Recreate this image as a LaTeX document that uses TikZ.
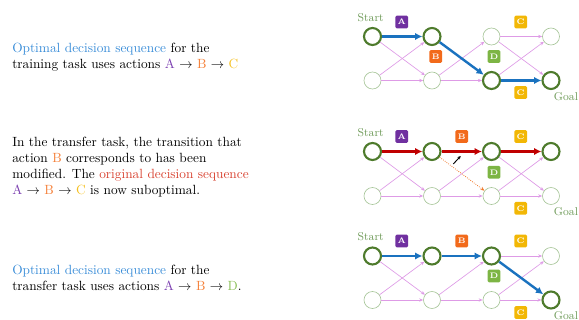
\documentclass[tikz,border=0pt]{standalone}
\usetikzlibrary{arrows.meta}
\definecolor{optblue}{HTML}{3A8DD8}
\definecolor{origred}{HTML}{D8412F}
\definecolor{colA}{HTML}{7030A0}
\definecolor{colB}{HTML}{F26A1B}
\definecolor{colC}{HTML}{F2B705}
\definecolor{colD}{HTML}{7DB544}
\definecolor{txtA}{HTML}{7B3FB0}
\definecolor{txtB}{HTML}{F5813A}
\definecolor{txtC}{HTML}{F5C020}
\definecolor{txtD}{HTML}{8CC05A}
\definecolor{dgreen}{HTML}{4E7B2C}
\definecolor{lgreen}{HTML}{A8C69A}
\definecolor{lblgreen}{HTML}{6E9A58}
\definecolor{pinkedge}{HTML}{DE9BE6}
\definecolor{pathblue}{HTML}{1A72BF}
\definecolor{pathred}{HTML}{C00000}
\definecolor{oldorange}{HTML}{F07A2C}
\begin{document}
\begin{tikzpicture}[x=0.75pt,y=-0.75pt,
 stateon/.style={circle,draw=dgreen,line width=1.6pt,minimum size=12.75pt,inner sep=0pt},
 stateoff/.style={circle,draw=lgreen,line width=0.5pt,minimum size=12.75pt,inner sep=0pt},
 tr/.style={draw=pinkedge,line width=0.5pt,-{Stealth[length=3pt,width=2.5pt]}},
 bluepath/.style={draw=pathblue,line width=1.8pt,-{Latex[length=5.5pt,width=5.5pt]}},
 redpath/.style={draw=pathred,line width=1.8pt,-{Latex[length=5.5pt,width=5.5pt]}},
 oldpath/.style={draw=oldorange,line width=0.6pt,densely dotted,-{Stealth[length=3pt,width=2.5pt]}},
 modarrow/.style={draw=black,line width=0.7pt,-{Stealth[length=2.5pt,width=2.5pt]}},
 act/.style={rectangle,rounded corners=1pt,minimum size=9.5pt,inner sep=0pt,text=white,font=\bfseries\fontsize{6}{6}\selectfont},
 lbl/.style={text=lblgreen,font=\fontsize{8.5}{10}\selectfont,inner sep=0pt},
 desc/.style={anchor=west,align=left,font=\fontsize{10}{12}\selectfont,inner sep=0pt}]
\useasboundingbox (0,0) rectangle (579,320);

% ---------- left texts ----------
\node[desc] (t1) at (12,57) {\textcolor{optblue}{Optimal decision sequence} for the\\
training task uses actions \textcolor{txtA}{A} $\rightarrow$ \textcolor{txtB}{B} $\rightarrow$ \textcolor{txtC}{C}};
\node[desc] (t2) at (12,167) {In the transfer task, the transition that\\
action \textcolor{txtB}{B} corresponds to has been\\
modified. The \textcolor{origred}{original decision sequence}\\
\textcolor{txtA}{A} $\rightarrow$ \textcolor{txtB}{B} $\rightarrow$ \textcolor{txtC}{C} is now suboptimal.};
\node[desc] (t3) at (12,278) {\textcolor{optblue}{Optimal decision sequence} for the\\
transfer task uses actions \textcolor{txtA}{A} $\rightarrow$ \textcolor{txtB}{B} $\rightarrow$ \textcolor{txtD}{D}.};

% ---------- panel 1 ----------
\node[stateon]  (a1) at (372.5,36.5) {};
\node[stateon]  (a2) at (432,36.5) {};
\node[stateoff] (a3) at (491.5,36.5) {};
\node[stateoff] (a4) at (551,36.5) {};
\node[stateoff] (b1) at (372.5,80.5) {};
\node[stateoff] (b2) at (432,80.5) {};
\node[stateon]  (b3) at (491.5,80.5) {};
\node[stateon]  (b4) at (551,80.5) {};
\draw[tr] (a1) -- (b2);
\draw[tr] (b1) -- (a2);
\draw[tr] (b1) -- (b2);
\draw[tr] (b2) -- (a3);
\draw[tr] (b2) -- (b3);
\draw[tr] (a3) -- (a4);
\draw[tr] (a3) -- (b4);
\draw[tr] (b3) -- (a4);
\draw[bluepath] (a1) -- (a2);
\draw[bluepath] (a2) -- (b3);
\draw[bluepath] (b3) -- (b4);
\node[lbl] (s1) at (370.7,17.5) {Start};
\node[lbl] (g1) at (566,96.5) {Goal};
\node[act,fill=colA] (xa1) at (401.7,22) {A};
\node[act,fill=colB] (xb1) at (435.7,56.5) {B};
\node[act,fill=colD] (xd1) at (494,56.5) {D};
\node[act,fill=colC] (xc1) at (520.7,22) {C};
\node[act,fill=colC] (xe1) at (520.7,92.5) {C};

% ---------- panel 2 ----------
\node[stateon]  (c1) at (372.5,151.5) {};
\node[stateon]  (c2) at (432,151.5) {};
\node[stateon]  (c3) at (491.5,151.5) {};
\node[stateon]  (c4) at (551,151.5) {};
\node[stateoff] (d1) at (372.5,196) {};
\node[stateoff] (d2) at (432,196) {};
\node[stateoff] (d3) at (491.5,196) {};
\node[stateoff] (d4) at (551,196) {};
\draw[tr] (c1) -- (d2);
\draw[tr] (d1) -- (c2);
\draw[tr] (d1) -- (d2);
\draw[tr] (d2) -- (c3);
\draw[tr] (d2) -- (d3);
\draw[tr] (c3) -- (d4);
\draw[tr] (d3) -- (c4);
\draw[tr] (d3) -- (d4);
\draw[oldpath] (c2) -- (d3);
\draw[redpath] (c1) -- (c2);
\draw[redpath] (c2) -- (c3);
\draw[redpath] (c3) -- (c4);
\coordinate (m0) at (453.3,164);
\coordinate (m1) at (460.7,156);
\draw[modarrow] (m0) -- (m1);
\node[lbl] (s2) at (370.7,132.5) {Start};
\node[lbl] (g2) at (566,212) {Goal};
\node[act,fill=colA] (xa2) at (401.7,136.5) {A};
\node[act,fill=colB] (xb2) at (461.7,136.5) {B};
\node[act,fill=colD] (xd2) at (494,172.3) {D};
\node[act,fill=colC] (xc2) at (520.7,136.5) {C};
\node[act,fill=colC] (xe2) at (520.7,208.3) {C};

% ---------- panel 3 ----------
\node[stateon]  (e1) at (372.5,256) {};
\node[stateon]  (e2) at (432,256) {};
\node[stateon]  (e3) at (491.5,256) {};
\node[stateoff] (e4) at (551,256) {};
\node[stateoff] (f1) at (372.5,300) {};
\node[stateoff] (f2) at (432,300) {};
\node[stateoff] (f3) at (491.5,300) {};
\node[stateon]  (f4) at (551,300) {};
\draw[tr] (e1) -- (f2);
\draw[tr] (f1) -- (e2);
\draw[tr] (f1) -- (f2);
\draw[tr] (f2) -- (e3);
\draw[tr] (f2) -- (f3);
\draw[tr] (e3) -- (e4);
\draw[tr] (f3) -- (e4);
\draw[tr] (f3) -- (f4);
\draw[bluepath] (e1) -- (e2);
\draw[bluepath] (e2) -- (e3);
\draw[bluepath] (e3) -- (f4);
\node[lbl] (s3) at (370.7,237) {Start};
\node[lbl] (g3) at (566,316) {Goal};
\node[act,fill=colA] (xa3) at (401.7,241) {A};
\node[act,fill=colB] (xb3) at (461.7,241) {B};
\node[act,fill=colD] (xd3) at (494,276) {D};
\node[act,fill=colC] (xc3) at (520.7,241) {C};
\node[act,fill=colC] (xe3) at (520.7,312.5) {C};
\end{tikzpicture}
\end{document}
